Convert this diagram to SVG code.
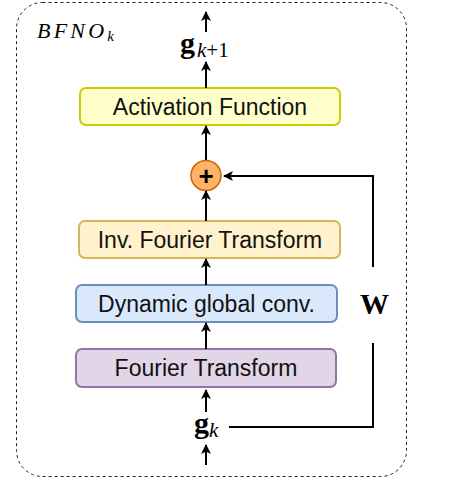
<svg xmlns="http://www.w3.org/2000/svg" width="465" height="482" viewBox="0 0 465 482">
<defs>
<marker id="ah" viewBox="0 0 10 10" refX="9" refY="5" markerWidth="10" markerHeight="10" markerUnits="userSpaceOnUse" orient="auto">
<path d="M0,0 L10,5 L0,10 L2.5,5 Z" fill="#000"/>
</marker>
<style>
.box{stroke-width:2}
.lbl{font-family:"Liberation Sans",Arial,sans-serif;font-size:23px;fill:#111;text-anchor:middle}
.math{font-family:"Liberation Serif","Times New Roman",serif;fill:#000}
.conn path{fill:none;stroke:#000;stroke-width:2}
</style>
</defs>
<rect id="frame" x="16.5" y="2.5" width="390" height="474" rx="26" ry="26" fill="none" stroke="#222" stroke-width="1" stroke-dasharray="3,3"/>
<text class="math" x="37" y="38" font-size="22" font-style="italic"><tspan letter-spacing="3.2">BFNO</tspan><tspan font-size="15" dy="3">k</tspan></text>

<g id="n-gk1">
<text class="math" x="180" y="53" font-size="30" font-weight="bold">g</text>
<text class="math" x="197" y="57" font-size="21"><tspan font-style="italic">k</tspan>+1</text>
</g>
<g id="n-act">
<rect class="box" x="80" y="88" width="260" height="37" rx="6" fill="#ffffcc" stroke="#cccc00"/>
<text class="lbl" x="210" y="115">Activation Function</text>
</g>
<g id="n-plus">
<circle cx="206" cy="175.5" r="15" fill="#ffb366" stroke="#cc6600" stroke-width="1.5"/>
<text x="206" y="184.5" font-family="Liberation Sans,Arial,sans-serif" font-size="26" font-weight="bold" text-anchor="middle" fill="#000">+</text>
</g>
<g id="n-ift">
<rect class="box" x="79" y="221" width="261" height="37" rx="6" fill="#fff2cc" stroke="#d6b656"/>
<text class="lbl" x="210" y="248">Inv. Fourier Transform</text>
</g>
<g id="n-dgc">
<rect class="box" x="76" y="285" width="261" height="37" rx="6" fill="#dae8fc" stroke="#6c8ebf"/>
<text class="lbl" x="206.5" y="312">Dynamic global conv.</text>
</g>
<g id="n-ft">
<rect class="box" x="76" y="349" width="260" height="38" rx="6" fill="#e1d5e7" stroke="#9673a6"/>
<text class="lbl" x="206" y="376">Fourier Transform</text>
</g>
<g id="n-gk">
<text class="math" x="194" y="433" font-size="30" font-weight="bold">g</text>
<text class="math" x="209" y="437" font-size="21" font-style="italic">k</text>
</g>
<g id="n-W">
<text class="math" x="374.5" y="314" font-size="29" font-weight="bold" text-anchor="middle">W</text>
</g>

<g id="connectors" class="conn">
<path d="M206,32 L206,12" marker-end="url(#ah)"/>
<path d="M206,88 L206,62" marker-end="url(#ah)"/>
<path d="M206,160 L206,126" marker-end="url(#ah)"/>
<path d="M206,221 L206,191" marker-end="url(#ah)"/>
<path d="M206,285 L206,259" marker-end="url(#ah)"/>
<path d="M206,349 L206,323" marker-end="url(#ah)"/>
<path d="M206,412 L206,390" marker-end="url(#ah)"/>
<path d="M206,465 L206,445" marker-end="url(#ah)"/>
<path d="M229,427 L373,427 L373,343"/>
<path d="M373,267 L373,176 L224,176" marker-end="url(#ah)"/>
</g>
</svg>
